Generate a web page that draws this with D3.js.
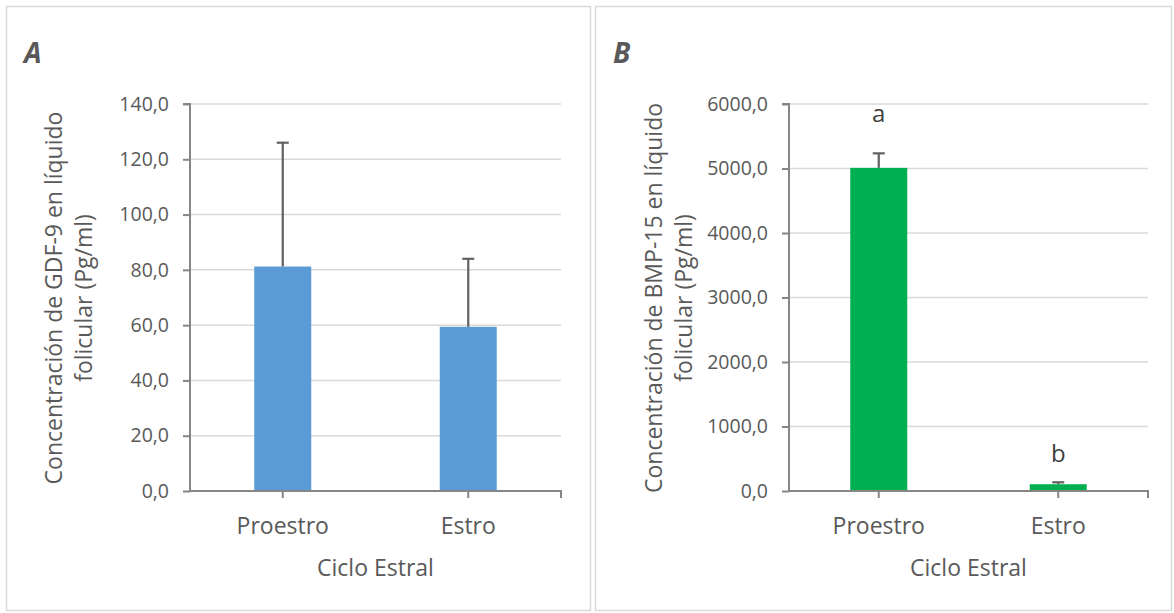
<!DOCTYPE html>
<html>
<head>
<meta charset="utf-8">
<script src="https://cdn.jsdelivr.net/npm/d3@7"></script>
<style>
  body { margin: 0; background: #fff; }
  text { font-family: "Open Sans", sans-serif; fill: #595959; }
</style>
</head>
<body>
<div id="chart"></div>
<script>
// data
const categories = ["Proestro", "Estro"];
const gdf9Values = [81.2, 59.4];
const gdf9Errors = [44.8, 24.6];
const gdf9Ticks = [0, 20, 40, 60, 80, 100, 120, 140];
const bmp15Values = [5010, 105];
const bmp15Errors = [225, 30];
const bmp15Ticks = [0, 1000, 2000, 3000, 4000, 5000, 6000];
const bmp15Letters = ["a", "b"];
const bmp15LetterY = [5720, 450];

let width = 1174;
let height = 613;

let svg = d3.select('#chart')
            .append('svg')
            .attr('width', width)
            .attr('height', height)
            .style('background', 'white');

const fmt = v => d3.format('.1f')(v).replace('.', ',');

function drawPanel(p) {
    // panel frame
    svg.append('rect')
        .attr('x', p.frame[0] + 0.5)
        .attr('y', 6.5)
        .attr('width', p.frame[1] - p.frame[0])
        .attr('height', 604)
        .attr('fill', 'none')
        .attr('stroke', '#d9d9d9')
        .attr('stroke-width', 1.5);

    svg.append('text')
        .attr('x', p.frame[0] + 18)
        .attr('y', 63)
        .style('font-size', '28px')
        .style('font-weight', 'bold')
        .style('font-style', 'italic')
        .text(p.letter);

    let yScale = d3.scaleLinear()
        .domain([0, d3.max(p.ticks)])
        .range([491, 104]);
    let xScale = d3.scaleBand()
        .domain(categories)
        .range([p.left, p.right]);

    // gridlines
    svg.append('g')
        .selectAll('line')
        .data(p.ticks.filter(t => t > 0))
        .join('line')
        .attr('x1', p.left)
        .attr('x2', p.right)
        .attr('y1', d => yScale(d))
        .attr('y2', d => yScale(d))
        .attr('stroke', '#d9d9d9')
        .attr('stroke-width', 1.5);

    // bars
    const rows = categories.map((c, i) => ({cat: c, v: p.values[i], e: p.errors[i]}));
    const bw = 57;
    svg.append('g')
        .selectAll('rect')
        .data(rows)
        .join('rect')
        .attr('x', d => xScale(d.cat) + xScale.bandwidth() / 2 - bw / 2)
        .attr('y', d => yScale(d.v))
        .attr('width', bw)
        .attr('height', d => yScale(0) - yScale(d.v))
        .attr('fill', p.color);

    // error bars (upper only)
    const eb = svg.append('g').attr('stroke', '#616161').attr('stroke-width', 2.2);
    rows.forEach(d => {
        const cx = xScale(d.cat) + xScale.bandwidth() / 2;
        eb.append('line')
            .attr('x1', cx).attr('x2', cx)
            .attr('y1', yScale(d.v)).attr('y2', yScale(d.v + d.e));
        eb.append('line')
            .attr('x1', cx - 6).attr('x2', cx + 6)
            .attr('y1', yScale(d.v + d.e)).attr('y2', yScale(d.v + d.e));
    });

    // y axis
    let yAxis = svg.append('g')
        .attr('transform', `translate(${p.left}, 0)`)
        .call(d3.axisLeft(yScale).tickValues(p.ticks).tickFormat(fmt).tickSize(7).tickPadding(14));
    yAxis.selectAll('path, line').attr('stroke', '#868686').attr('stroke-width', 2);
    yAxis.select('.domain').attr('d', `M-7,${yScale(d3.max(p.ticks))}H0V${yScale(0)}`);
    yAxis.selectAll('text')
        .style('font-size', '19.5px')
        .style('font-family', '"Open Sans", sans-serif')
        .attr('fill', '#595959');

    // x axis
    let xAxis = svg.append('g')
        .attr('transform', `translate(0, ${yScale(0)})`)
        .call(d3.axisBottom(xScale).tickSize(7).tickPadding(20));
    xAxis.select('.domain').attr('d', `M${p.left},0H${p.right}V7`);
    xAxis.selectAll('path, line').attr('stroke', '#868686').attr('stroke-width', 2);
    xAxis.selectAll('text')
        .style('font-size', '23px')
        .style('font-family', '"Open Sans", sans-serif')
        .attr('fill', '#595959');

    // x title
    svg.append('text')
        .attr('x', (p.left + p.right) / 2)
        .attr('y', 576)
        .attr('text-anchor', 'middle')
        .style('font-size', '23px')
        .text('Ciclo Estral');

    // y title, two lines
    const yt = svg.append('text')
        .attr('transform', `translate(${p.titleX}, 298) rotate(-90)`)
        .attr('text-anchor', 'middle')
        .style('font-size', '23px');
    p.ytitle.forEach((t, i) => {
        yt.append('tspan').attr('x', 0).attr('dy', i === 0 ? 0 : 30).text(t);
    });

    // significance letters
    if (p.letters) {
        svg.append('g')
            .selectAll('text')
            .data(p.letters)
            .join('text')
            .attr('x', (d, i) => xScale(categories[i]) + xScale.bandwidth() / 2)
            .attr('y', (d, i) => yScale(p.letterY[i]))
            .attr('text-anchor', 'middle')
            .style('font-size', '24px')
            .style('fill', '#404040')
            .text(d => d);
    }
}

drawPanel({
    frame: [6, 590], letter: 'A', left: 190, right: 561,
    values: gdf9Values, errors: gdf9Errors, ticks: gdf9Ticks, color: '#5b9bd5',
    titleX: 62, ytitle: ['Concentración de GDF-9 en líquido', 'folicular (Pg/ml)']
});
drawPanel({
    frame: [595, 1171], letter: 'B', left: 789, right: 1148,
    values: bmp15Values, errors: bmp15Errors, ticks: bmp15Ticks, color: '#00b050',
    titleX: 662, ytitle: ['Concentración de BMP-15 en líquido', 'folicular (Pg/ml)'],
    letters: bmp15Letters, letterY: bmp15LetterY
});
</script>
</body>
</html>
